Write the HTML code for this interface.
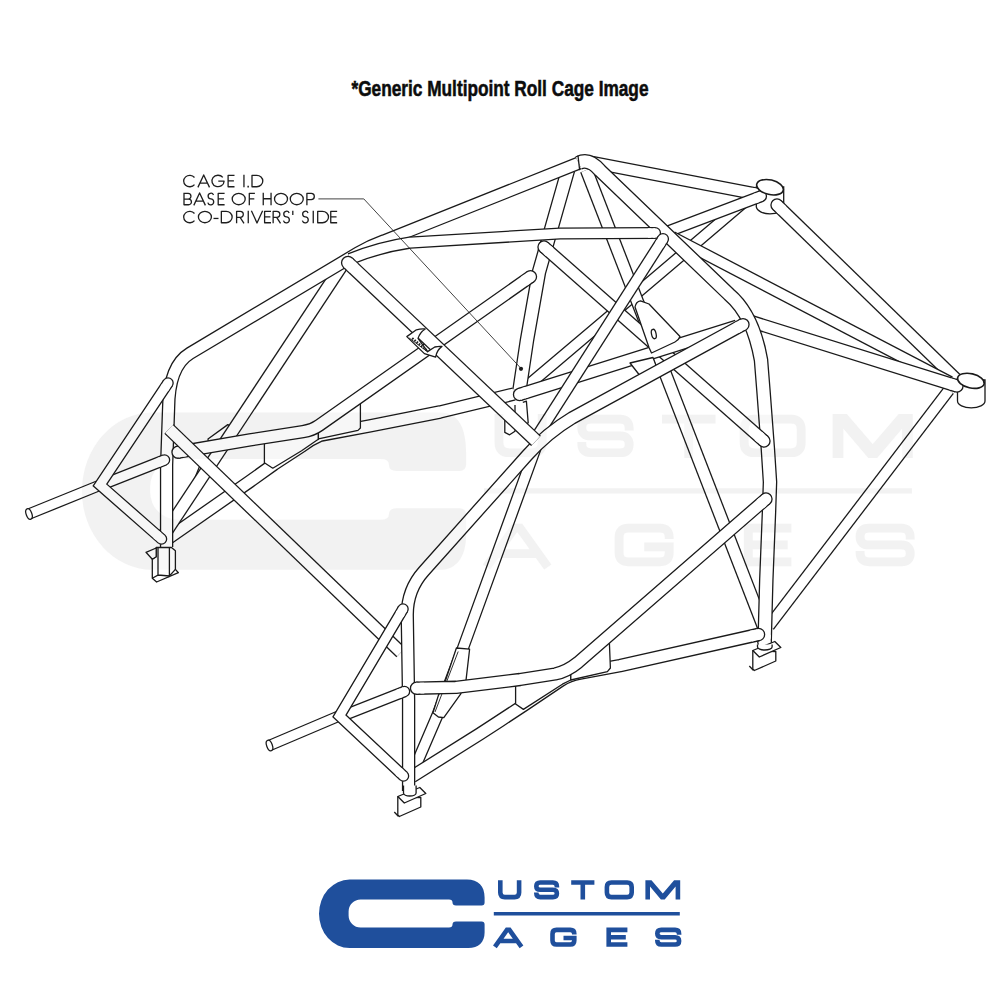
<!DOCTYPE html>
<html><head><meta charset="utf-8"><title>Generic Multipoint Roll Cage</title>
<style>
html,body{margin:0;padding:0;background:#fff;}
body{width:1000px;height:1000px;overflow:hidden;font-family:"Liberation Sans",sans-serif;}
svg{display:block;}
text{font-family:"Liberation Sans",sans-serif;}
</style></head><body>
<svg width="1000" height="1000" viewBox="0 0 1000 1000">
<defs>
<g id="logo">
<path stroke="none" d="M349.6 879.6 H467.0 C478.3 879.6 484.6 886 484.6 897.6 V902.4 Q484.6 905.4 481.6 905.4 H456 Q452.5 905.4 452.5 902.5 Q452.5 899.6 449 899.6 H360.6 A12 12 0 0 0 348.6 911.6 V915.4 A12 12 0 0 0 360.6 927.4 H449 Q452.5 927.4 452.5 924.5 Q452.5 921.6 456 921.6 H481.6 Q484.6 921.6 484.6 924.6 V932.4 C484.6 942 478.5 948 468.4 948 H349.6 A30.6 34.2 0 0 1 349.6 879.6 Z"/>
<g fill="none" stroke-linejoin="miter" stroke-linecap="butt">
<path d="M500.3 880.2 V892.6 Q500.3 897.1 504.8 897.1 H514.6 Q519.1 897.1 519.1 892.6 V880.2"/>
<path d="M556.9 887.4 V886.5 Q556.9 882.5 552.9 882.5 H540.3 Q536.3 882.5 536.3 886.2 Q536.3 889.8 540.3 889.8 H552.9 Q556.9 889.8 556.9 893.5 Q556.9 897.1 552.9 897.1 H540.3 Q536.3 897.1 536.3 893.1 V892.4"/>
<path d="M571.2 882.5 H594.4 M582.8 882.5 V899.4"/>
<path d="M611.4 882.5 H627.2 Q631.7 882.5 631.7 887 V892.6 Q631.7 897.1 627.2 897.1 H611.4 Q606.9 897.1 606.9 892.6 V887 Q606.9 882.5 611.4 882.5 Z"/>
<path stroke="none" fill="currentColor" d="M645.4 899.4 V880.2 H651.5 L662.8 893.4 L674.1 880.2 H680.2 V899.4 H675.6 V886.6 L664.7 899.4 H660.9 L650 886.6 V899.4 Z"/>
<path d="M493.8 913.7 H679.8" style="stroke-width:calc(var(--lw,3.4)*1px)"/>
<path d="M494.9 946.8 L507 929.9 H509.4 L521.5 946.8 M500 941 H516.4"/>
<path d="M574.3 934.6 V933.9 Q574.3 929.9 570.3 929.9 H556.5 Q552.5 929.9 552.5 933.9 V940.5 Q552.5 944.5 556.5 944.5 H570.3 Q574.3 944.5 574.3 940.5 V938 H563.5"/>
<path d="M627.4 929.9 H608.7 V944.5 H627.4 M608.7 937.2 H625.8"/>
<path d="M679.1 934.8 V933.9 Q679.1 929.9 675.1 929.9 H661.3 Q657.3 929.9 657.3 933.6 Q657.3 937.2 661.3 937.2 H675.1 Q679.1 937.2 679.1 940.9 Q679.1 944.5 675.1 944.5 H661.3 Q657.3 944.5 657.3 940.5 V939.8"/>
</g>

</g>
<g id="logowm">
<path stroke="none" d="M349.6 879.6 H474.4 C482.7 879.6 486 886 486 897.6 V902 Q486 905 483 905 H456 Q452.5 905 452.5 902.4 Q452.5 899.8 449 899.8 H360.6 A12 12 0 0 0 348.6 911.8 V914.2 A12 12 0 0 0 360.6 926.2 H449 Q452.5 926.2 452.5 923.7 Q452.5 921.2 456 921.2 H483 Q486 921.2 486 924.2 V932.4 C486 942 482.2 948 474.4 948 H349.6 A30.6 34.2 0 0 1 349.6 879.6 Z"/>
<g fill="none" stroke-linejoin="miter" stroke-linecap="butt">
<path d="M500.3 880.2 V892.6 Q500.3 897.1 504.8 897.1 H514.6 Q519.1 897.1 519.1 892.6 V880.2"/>
<path d="M556.9 887.4 V886.5 Q556.9 882.5 552.9 882.5 H540.3 Q536.3 882.5 536.3 886.2 Q536.3 889.8 540.3 889.8 H552.9 Q556.9 889.8 556.9 893.5 Q556.9 897.1 552.9 897.1 H540.3 Q536.3 897.1 536.3 893.1 V892.4"/>
<path d="M571.2 882.5 H594.4 M582.8 882.5 V899.4"/>
<path d="M611.4 882.5 H627.2 Q631.7 882.5 631.7 887 V892.6 Q631.7 897.1 627.2 897.1 H611.4 Q606.9 897.1 606.9 892.6 V887 Q606.9 882.5 611.4 882.5 Z"/>
<path stroke="none" fill="currentColor" d="M645.4 899.4 V880.2 H651.5 L662.8 893.4 L674.1 880.2 H680.2 V899.4 H675.6 V886.6 L664.7 899.4 H660.9 L650 886.6 V899.4 Z"/>
<path d="M493.8 913.7 H679.8" style="stroke-width:calc(var(--lw,3.4)*1px)"/>
<path d="M494.9 946.8 L507 929.9 H509.4 L521.5 946.8 M500 941 H516.4"/>
<path d="M574.3 934.6 V933.9 Q574.3 929.9 570.3 929.9 H556.5 Q552.5 929.9 552.5 933.9 V940.5 Q552.5 944.5 556.5 944.5 H570.3 Q574.3 944.5 574.3 940.5 V938 H563.5"/>
<path d="M627.4 929.9 H608.7 V944.5 H627.4 M608.7 937.2 H625.8"/>
<path d="M679.1 934.8 V933.9 Q679.1 929.9 675.1 929.9 H661.3 Q657.3 929.9 657.3 933.6 Q657.3 937.2 661.3 937.2 H675.1 Q679.1 937.2 679.1 940.9 Q679.1 944.5 675.1 944.5 H661.3 Q657.3 944.5 657.3 940.5 V939.8"/>
</g>

</g>
</defs>
<rect width="1000" height="1000" fill="#fff"/>
<!-- watermark underlay -->
<g opacity="0.014"><g transform="translate(82 412.5) scale(2.3) translate(-319 -879.6)" fill="#000" stroke="#000" color="#000" stroke-width="3.8" style="--lw:2.3">
<use href="#logowm"/>
</g></g>
<!-- title -->
<text x="351.5" y="96.2" font-size="22" font-weight="bold" fill="#0c0c0c" stroke="#0c0c0c" stroke-width="0.55" textLength="297" lengthAdjust="spacingAndGlyphs">*Generic Multipoint Roll Cage Image</text>
<!-- cage drawing -->
<g>
<path d="M756.3 187 V207 A13.75 7.5 0 0 0 783.7 207 V187 Z" fill="#fff" stroke="#1a1a1a" stroke-width="1.3"/>
<path d="M957.5 380 V401 A13.75 6.9 0 0 0 985 401 V380 Z" fill="#fff" stroke="#1a1a1a" stroke-width="1.3"/>
<path d="M 526 387 L 605 320.2 L 748 198.7" fill="none" stroke="#1a1a1a" stroke-width="12.2" stroke-linecap="butt" stroke-linejoin="round" stroke-miterlimit="10"/><path d="M 526 387 L 605 320.2 L 748 198.7" fill="none" stroke="#fff" stroke-width="9.6" stroke-linecap="butt" stroke-linejoin="round" stroke-miterlimit="10"/>
<path d="M 590 162 L 759 194.5" fill="none" stroke="#1a1a1a" stroke-width="13.4" stroke-linecap="butt" stroke-linejoin="round" stroke-miterlimit="10"/><path d="M 590 162 L 759 194.5" fill="none" stroke="#fff" stroke-width="10.8" stroke-linecap="butt" stroke-linejoin="round" stroke-miterlimit="10"/><circle cx="759" cy="194.5" r="6.05" fill="#fff" stroke="#1a1a1a" stroke-width="1.3"/><path d="M759 194.5 L751.439 193.046" fill="none" stroke="#fff" stroke-width="10.8"/>
<path d="M 761 196.2 L 668 231.5" fill="none" stroke="#1a1a1a" stroke-width="12.2" stroke-linecap="butt" stroke-linejoin="round" stroke-miterlimit="10"/><path d="M 761 196.2 L 668 231.5" fill="none" stroke="#fff" stroke-width="9.6" stroke-linecap="butt" stroke-linejoin="round" stroke-miterlimit="10"/><circle cx="761" cy="196.2" r="5.45" fill="#fff" stroke="#1a1a1a" stroke-width="1.3"/><path d="M761 196.2 L754.362 198.72" fill="none" stroke="#fff" stroke-width="9.6"/>
<path d="M 777 205 L 956 379" fill="none" stroke="#1a1a1a" stroke-width="13.4" stroke-linecap="butt" stroke-linejoin="round" stroke-miterlimit="10"/><path d="M 777 205 L 956 379" fill="none" stroke="#fff" stroke-width="10.8" stroke-linecap="butt" stroke-linejoin="round" stroke-miterlimit="10"/><circle cx="777" cy="205" r="6.05" fill="#fff" stroke="#1a1a1a" stroke-width="1.3"/><path d="M777 205 L782.521 210.367" fill="none" stroke="#fff" stroke-width="10.8"/>
<path d="M 672 236.8 L 950 382" fill="none" stroke="#1a1a1a" stroke-width="12.2" stroke-linecap="butt" stroke-linejoin="round" stroke-miterlimit="10"/><path d="M 672 236.8 L 950 382" fill="none" stroke="#fff" stroke-width="9.6" stroke-linecap="butt" stroke-linejoin="round" stroke-miterlimit="10"/>
<path d="M 949 390 L 769 626" fill="none" stroke="#1a1a1a" stroke-width="12.2" stroke-linecap="butt" stroke-linejoin="round" stroke-miterlimit="10"/><path d="M 949 390 L 769 626" fill="none" stroke="#fff" stroke-width="9.6" stroke-linecap="butt" stroke-linejoin="round" stroke-miterlimit="10"/>
<path d="M 746 320 L 957 386" fill="none" stroke="#1a1a1a" stroke-width="13.4" stroke-linecap="butt" stroke-linejoin="round" stroke-miterlimit="10"/><path d="M 746 320 L 957 386" fill="none" stroke="#fff" stroke-width="10.8" stroke-linecap="butt" stroke-linejoin="round" stroke-miterlimit="10"/><circle cx="957" cy="386" r="6.05" fill="#fff" stroke="#1a1a1a" stroke-width="1.3"/><path d="M957 386 L949.651 383.701" fill="none" stroke="#fff" stroke-width="10.8"/>
<ellipse cx="770" cy="187.2" rx="13.6" ry="7.3" transform="rotate(13 770 187.2)" fill="#fff" stroke="#1a1a1a" stroke-width="1.6"/>
<ellipse cx="970.9" cy="380.8" rx="13.6" ry="7.1" transform="rotate(13 970.9 380.8)" fill="#fff" stroke="#1a1a1a" stroke-width="1.6"/>
<path d="M 568 170 L 539 272 L 527 340 L 519.5 390" fill="none" stroke="#1a1a1a" stroke-width="14.6" stroke-linecap="butt" stroke-linejoin="round" stroke-miterlimit="10"/><path d="M 568 170 L 539 272 L 527 340 L 519.5 390" fill="none" stroke="#fff" stroke-width="12" stroke-linecap="butt" stroke-linejoin="round" stroke-miterlimit="10"/>
<path d="M504.8 404.8 V432.4 L509.6 434.8 L515 431.2 V405 M522.8 402.4 L526.4 401.2 L528.2 422.8 L524 425" fill="none" stroke="#1a1a1a" stroke-width="1.3" stroke-linejoin="round"/>
<path d="M 168 538.5 L 250 481.3 L 274 464.1 L 301.6 446.1 Q 311 439 320 435.2 L 370 425.9 L 440 412 L 514 394" fill="none" stroke="#1a1a1a" stroke-width="13.6" stroke-linecap="butt" stroke-linejoin="round" stroke-miterlimit="10"/><path d="M 168 538.5 L 250 481.3 L 274 464.1 L 301.6 446.1 Q 311 439 320 435.2 L 370 425.9 L 440 412 L 514 394" fill="none" stroke="#fff" stroke-width="11" stroke-linecap="butt" stroke-linejoin="round" stroke-miterlimit="10"/>
<path d="M227.8 424.6 L208 439 Q210 447 205 452.8 L193 482.8 L202 480 L234 428 Z" fill="#fff" stroke="#1a1a1a" stroke-width="1.3" stroke-linejoin="round"/>
<path d="M 343 264 L 162 538" fill="none" stroke="#1a1a1a" stroke-width="13.4" stroke-linecap="butt" stroke-linejoin="round" stroke-miterlimit="10"/><path d="M 343 264 L 162 538" fill="none" stroke="#fff" stroke-width="10.8" stroke-linecap="butt" stroke-linejoin="round" stroke-miterlimit="10"/>
<path d="M 586.4 170 L 764.7 630" fill="none" stroke="#1a1a1a" stroke-width="13.4" stroke-linecap="butt" stroke-linejoin="round" stroke-miterlimit="10"/><path d="M 586.4 170 L 764.7 630" fill="none" stroke="#fff" stroke-width="10.8" stroke-linecap="butt" stroke-linejoin="round" stroke-miterlimit="10"/>
<path d="M 166.6 547 L 166.6 465 L 168.6 408 Q 168.9 366 190 353.3 L 358 253 Q 370 246 384 240.9 L 579 163" fill="none" stroke="#1a1a1a" stroke-width="13.4" stroke-linecap="butt" stroke-linejoin="round" stroke-miterlimit="10"/><path d="M 166.6 547 L 166.6 465 L 168.6 408 Q 168.9 366 190 353.3 L 358 253 Q 370 246 384 240.9 L 579 163" fill="none" stroke="#fff" stroke-width="10.8" stroke-linecap="butt" stroke-linejoin="round" stroke-miterlimit="10"/>
<path d="M264.4 438 L264.4 462.8 L272.8 468.2 L301.6 450.8 L317.2 440 L318.4 439.4 L318.4 428 Z" fill="#fff" stroke="#1a1a1a" stroke-width="1.3" stroke-linejoin="round"/>
<path d="M318.4 428 L318.4 438.9 L358 430.4 L360.4 428 L360.4 400 Z" fill="#fff" stroke="#1a1a1a" stroke-width="1.3" stroke-linejoin="round"/>
<path d="M 178 452.2 L 250 439.9 L 303 431.7 Q 312 430.3 319 425.4 L 530.5 276.7" fill="none" stroke="#1a1a1a" stroke-width="13.4" stroke-linecap="butt" stroke-linejoin="round" stroke-miterlimit="10"/><path d="M 178 452.2 L 250 439.9 L 303 431.7 Q 312 430.3 319 425.4 L 530.5 276.7" fill="none" stroke="#fff" stroke-width="10.8" stroke-linecap="butt" stroke-linejoin="round" stroke-miterlimit="10"/><circle cx="178" cy="452.2" r="6.05" fill="#fff" stroke="#1a1a1a" stroke-width="1.3"/><path d="M178 452.2 L185.59 450.903" fill="none" stroke="#fff" stroke-width="10.8"/><circle cx="530.5" cy="276.7" r="6.05" fill="#fff" stroke="#1a1a1a" stroke-width="1.3"/><path d="M530.5 276.7 L524.201 281.129" fill="none" stroke="#fff" stroke-width="10.8"/>
<path d="M 578.6 162.9 Q 589 157.6 600 170.5 L 729 294.3 Q 753 314.5 761 360 L 763.4 390 L 767.8 448 L 770 482 L 769 512 L 766.3 580 L 764.6 643" fill="none" stroke="#1a1a1a" stroke-width="14.6" stroke-linecap="butt" stroke-linejoin="round" stroke-miterlimit="10"/><path d="M 578.6 162.9 Q 589 157.6 600 170.5 L 729 294.3 Q 753 314.5 761 360 L 763.4 390 L 767.8 448 L 770 482 L 769 512 L 766.3 580 L 764.6 643" fill="none" stroke="#fff" stroke-width="12" stroke-linecap="butt" stroke-linejoin="round" stroke-miterlimit="10"/><circle cx="764.6" cy="643" r="6.65" fill="#fff" stroke="#1a1a1a" stroke-width="1.3"/><path d="M764.6 643 L764.824 634.703" fill="none" stroke="#fff" stroke-width="12"/>
<path d="M 578 155.8 L 579.6 169.6" fill="none" stroke="#1a1a1a" stroke-width="1.3" stroke-linecap="round" stroke-linejoin="round"/>
<path d="M 544 247 L 764 441" fill="none" stroke="#1a1a1a" stroke-width="13.4" stroke-linecap="butt" stroke-linejoin="round" stroke-miterlimit="10"/><path d="M 544 247 L 764 441" fill="none" stroke="#fff" stroke-width="10.8" stroke-linecap="butt" stroke-linejoin="round" stroke-miterlimit="10"/><circle cx="544" cy="247" r="6.05" fill="#fff" stroke="#1a1a1a" stroke-width="1.3"/><path d="M544 247 L549.775 252.093" fill="none" stroke="#fff" stroke-width="10.8"/><circle cx="764" cy="441" r="6.05" fill="#fff" stroke="#1a1a1a" stroke-width="1.3"/><path d="M764 441 L758.225 435.907" fill="none" stroke="#fff" stroke-width="10.8"/>
<path d="M 519.5 394.5 L 737 326.2" fill="none" stroke="#1a1a1a" stroke-width="13.4" stroke-linecap="butt" stroke-linejoin="round" stroke-miterlimit="10"/><path d="M 519.5 394.5 L 737 326.2" fill="none" stroke="#fff" stroke-width="10.8" stroke-linecap="butt" stroke-linejoin="round" stroke-miterlimit="10"/><circle cx="519.5" cy="394.5" r="6.05" fill="#fff" stroke="#1a1a1a" stroke-width="1.3"/><path d="M519.5 394.5 L526.846 392.193" fill="none" stroke="#fff" stroke-width="10.8"/>
<path d="M630 363 L653 357.5 L657 368 L641 377 Z" fill="#fff" stroke="#1a1a1a" stroke-width="1.3" stroke-linejoin="round"/>
<path d="M635 307 Q636 301.5 640.5 300.8 L649 304 L680 336.5 Q678.5 340.5 675 342 L651.5 353 L649 347.5 Z" fill="#fff" stroke="#1a1a1a" stroke-width="1.3" stroke-linejoin="round"/>
<ellipse cx="653.8" cy="334" rx="2.3" ry="4.8" transform="rotate(-12 653.8 334)" fill="#fff" stroke="#1a1a1a" stroke-width="1.3"/>
<path d="M 350 259 Q 380 247 410 242.6 L 560 233.5 L 655 233" fill="none" stroke="#1a1a1a" stroke-width="12.2" stroke-linecap="butt" stroke-linejoin="round" stroke-miterlimit="10"/><path d="M 350 259 Q 380 247 410 242.6 L 560 233.5 L 655 233" fill="none" stroke="#fff" stroke-width="9.6" stroke-linecap="butt" stroke-linejoin="round" stroke-miterlimit="10"/><circle cx="655" cy="233" r="5.45" fill="#fff" stroke="#1a1a1a" stroke-width="1.3"/><path d="M655 233 L647.9 233.037" fill="none" stroke="#fff" stroke-width="9.6"/>
<path d="M 536.5 437 L 663 239" fill="none" stroke="#1a1a1a" stroke-width="12.2" stroke-linecap="butt" stroke-linejoin="round" stroke-miterlimit="10"/><path d="M 536.5 437 L 663 239" fill="none" stroke="#fff" stroke-width="9.6" stroke-linecap="butt" stroke-linejoin="round" stroke-miterlimit="10"/><circle cx="663" cy="239" r="5.45" fill="#fff" stroke="#1a1a1a" stroke-width="1.3"/><path d="M663 239 L659.177 244.983" fill="none" stroke="#fff" stroke-width="9.6"/>
<path d="M 169 429 L 401 652.3" fill="none" stroke="#1a1a1a" stroke-width="13.4" stroke-linecap="butt" stroke-linejoin="round" stroke-miterlimit="10"/><path d="M 169 429 L 401 652.3" fill="none" stroke="#fff" stroke-width="10.8" stroke-linecap="butt" stroke-linejoin="round" stroke-miterlimit="10"/>
<path d="M 536 447 L 463 648 L 437.5 715 L 413 772" fill="none" stroke="#1a1a1a" stroke-width="12.2" stroke-linecap="butt" stroke-linejoin="round" stroke-miterlimit="10"/><path d="M 536 447 L 463 648 L 437.5 715 L 413 772" fill="none" stroke="#fff" stroke-width="9.6" stroke-linecap="butt" stroke-linejoin="round" stroke-miterlimit="10"/>
<path d="M456.4 648 L469.6 649.2 L466 680.4 L460.6 694.2 L443.8 717.6 L438.4 717 L433 712.8 L438.4 695.4 L445.6 680.4 Z" fill="#fff" stroke="#1a1a1a" stroke-width="1.3" stroke-linejoin="round"/>
<path d="M458.2 651.5 L435 712" fill="none" stroke="#1a1a1a" stroke-width="0.9"/>
<path d="M 412 776.5 L 480 733.8 L 500 720.8 L 524 705 L 560 680.8 Q 569 674.8 580 673 L 620 665.6 L 758.5 634.5" fill="none" stroke="#1a1a1a" stroke-width="13.6" stroke-linecap="butt" stroke-linejoin="round" stroke-miterlimit="10"/><path d="M 412 776.5 L 480 733.8 L 500 720.8 L 524 705 L 560 680.8 Q 569 674.8 580 673 L 620 665.6 L 758.5 634.5" fill="none" stroke="#fff" stroke-width="11" stroke-linecap="butt" stroke-linejoin="round" stroke-miterlimit="10"/><circle cx="758.5" cy="634.5" r="6.15" fill="#fff" stroke="#1a1a1a" stroke-width="1.3"/><path d="M758.5 634.5 L750.89 636.209" fill="none" stroke="#fff" stroke-width="11"/>
<path d="M 408.6 791 L 408.6 700 L 407.25 615 Q 407.25 589.5 424 571 L 527 455.5 Q 547 433 572 418 L 743 324.6" fill="none" stroke="#1a1a1a" stroke-width="13.4" stroke-linecap="butt" stroke-linejoin="round" stroke-miterlimit="10"/><path d="M 408.6 791 L 408.6 700 L 407.25 615 Q 407.25 589.5 424 571 L 527 455.5 Q 547 433 572 418 L 743 324.6" fill="none" stroke="#fff" stroke-width="10.8" stroke-linecap="butt" stroke-linejoin="round" stroke-miterlimit="10"/><circle cx="743" cy="324.6" r="6.05" fill="#fff" stroke="#1a1a1a" stroke-width="1.3"/><path d="M743 324.6 L736.242 328.291" fill="none" stroke="#fff" stroke-width="10.8"/>
<path d="M515.6 680 L515.6 704 L523.4 709.4 L562.4 684.2 L570.8 680 L570.8 668 Z" fill="#fff" stroke="#1a1a1a" stroke-width="1.3" stroke-linejoin="round"/>
<path d="M570.8 668 L570.8 680 L607.4 671.6 L610.4 668 L609.2 638 Z" fill="#fff" stroke="#1a1a1a" stroke-width="1.3" stroke-linejoin="round"/>
<path d="M 416.5 688.2 L 456 687.3 L 520 679.5 L 555 674 Q 567 671.5 578 662.5 L 766 499" fill="none" stroke="#1a1a1a" stroke-width="13.4" stroke-linecap="butt" stroke-linejoin="round" stroke-miterlimit="10"/><path d="M 416.5 688.2 L 456 687.3 L 520 679.5 L 555 674 Q 567 671.5 578 662.5 L 766 499" fill="none" stroke="#fff" stroke-width="10.8" stroke-linecap="butt" stroke-linejoin="round" stroke-miterlimit="10"/><circle cx="416.5" cy="688.2" r="6.05" fill="#fff" stroke="#1a1a1a" stroke-width="1.3"/><path d="M416.5 688.2 L424.198 688.025" fill="none" stroke="#fff" stroke-width="10.8"/><circle cx="766" cy="499" r="6.05" fill="#fff" stroke="#1a1a1a" stroke-width="1.3"/><path d="M766 499 L760.19 504.053" fill="none" stroke="#fff" stroke-width="10.8"/>
<path d="M 348 262.8 L 536 440.8" fill="none" stroke="#1a1a1a" stroke-width="14.2" stroke-linecap="butt" stroke-linejoin="round" stroke-miterlimit="10"/><path d="M 348 262.8 L 536 440.8" fill="none" stroke="#fff" stroke-width="11.6" stroke-linecap="butt" stroke-linejoin="round" stroke-miterlimit="10"/><circle cx="348" cy="262.8" r="6.45" fill="#fff" stroke="#1a1a1a" stroke-width="1.3"/><path d="M348 262.8 L353.882 268.369" fill="none" stroke="#fff" stroke-width="11.6"/>
<path d="M406.8 336.6 L416.4 329.8 Q421 328.6 425.2 329 Q419.8 332.6 418 338.4 L427.6 351.6 L434.8 347 Q438.5 346 442 346.4 Q436.8 350 435.6 357.2 L424.4 353.6 Z" fill="#fff" stroke="#1a1a1a" stroke-width="1.3" stroke-linejoin="round"/>
<path d="M409.2 338 L428 352.2" fill="none" stroke="#1a1a1a" stroke-width="0.9"/>
<path d="M412.2 338.2 L426.6 350.2" fill="none" stroke="#1a1a1a" stroke-width="2.2" stroke-dasharray="1.6 1.3"/>
<path d="M 29 514 L 98 486" fill="none" stroke="#1a1a1a" stroke-width="11.6" stroke-linecap="butt" stroke-linejoin="round" stroke-miterlimit="10"/><path d="M 29 514 L 98 486" fill="none" stroke="#fff" stroke-width="9" stroke-linecap="butt" stroke-linejoin="round" stroke-miterlimit="10"/>
<ellipse cx="29" cy="514" rx="2.8" ry="5.5" transform="rotate(-20 29 514)" fill="#fff" stroke="#1a1a1a" stroke-width="1.3"/>
<path d="M 100 485.5 L 164.5 460" fill="none" stroke="#1a1a1a" stroke-width="11.6" stroke-linecap="butt" stroke-linejoin="round" stroke-miterlimit="10"/><path d="M 100 485.5 L 164.5 460" fill="none" stroke="#fff" stroke-width="9" stroke-linecap="butt" stroke-linejoin="round" stroke-miterlimit="10"/><circle cx="164.5" cy="460" r="5.15" fill="#fff" stroke="#1a1a1a" stroke-width="1.3"/><path d="M164.5 460 L158.176 462.5" fill="none" stroke="#fff" stroke-width="9"/>
<path d="M 168 383 L 100 485 L 161.5 539" fill="none" stroke="#1a1a1a" stroke-width="11.6" stroke-linecap="butt" stroke-linejoin="miter" stroke-miterlimit="10"/><path d="M 168 383 L 100 485 L 161.5 539" fill="none" stroke="#fff" stroke-width="9" stroke-linecap="butt" stroke-linejoin="miter" stroke-miterlimit="10"/><circle cx="168" cy="383" r="5.15" fill="#fff" stroke="#1a1a1a" stroke-width="1.3"/><path d="M168 383 L164.228 388.658" fill="none" stroke="#fff" stroke-width="9"/><circle cx="161.5" cy="539" r="5.15" fill="#fff" stroke="#1a1a1a" stroke-width="1.3"/><path d="M161.5 539 L156.39 534.513" fill="none" stroke="#fff" stroke-width="9"/>
<path d="M 269.5 745.5 L 339 716" fill="none" stroke="#1a1a1a" stroke-width="11.6" stroke-linecap="butt" stroke-linejoin="round" stroke-miterlimit="10"/><path d="M 269.5 745.5 L 339 716" fill="none" stroke="#fff" stroke-width="9" stroke-linecap="butt" stroke-linejoin="round" stroke-miterlimit="10"/>
<ellipse cx="269.5" cy="745.5" rx="2.8" ry="5.5" transform="rotate(-20 269.5 745.5)" fill="#fff" stroke="#1a1a1a" stroke-width="1.3"/>
<path d="M 341 716.5 L 404.5 691.5" fill="none" stroke="#1a1a1a" stroke-width="11.6" stroke-linecap="butt" stroke-linejoin="round" stroke-miterlimit="10"/><path d="M 341 716.5 L 404.5 691.5" fill="none" stroke="#fff" stroke-width="9" stroke-linecap="butt" stroke-linejoin="round" stroke-miterlimit="10"/><circle cx="404.5" cy="691.5" r="5.15" fill="#fff" stroke="#1a1a1a" stroke-width="1.3"/><path d="M404.5 691.5 L398.173 693.991" fill="none" stroke="#fff" stroke-width="9"/>
<path d="M 403 609 L 339.5 716 L 403.5 776" fill="none" stroke="#1a1a1a" stroke-width="11.6" stroke-linecap="butt" stroke-linejoin="miter" stroke-miterlimit="10"/><path d="M 403 609 L 339.5 716 L 403.5 776" fill="none" stroke="#fff" stroke-width="9" stroke-linecap="butt" stroke-linejoin="miter" stroke-miterlimit="10"/><circle cx="403" cy="609" r="5.15" fill="#fff" stroke="#1a1a1a" stroke-width="1.3"/><path d="M403 609 L399.53 614.848" fill="none" stroke="#fff" stroke-width="9"/><circle cx="403.5" cy="776" r="5.15" fill="#fff" stroke="#1a1a1a" stroke-width="1.3"/><path d="M403.5 776 L398.539 771.349" fill="none" stroke="#fff" stroke-width="9"/>
<polygon points="397.8,797 397.8,815 399.3,816.5 420.8,807 420.8,797.5" fill="#fff" stroke="#1a1a1a" stroke-width="1.3" stroke-linejoin="round"/>
<polyline points="394.3,812 398.3,816.3" fill="#fff" stroke="#1a1a1a" stroke-width="1.3" stroke-linejoin="round"/>
<polygon points="397.8,796.5 419.8,787.5 425.8,793.5 404.3,803" fill="#fff" stroke="#1a1a1a" stroke-width="1.3" stroke-linejoin="round"/>
<path d="M403.5 785.5 V793 A6.3 3 0 0 0 416.1 793 V785.5" fill="#fff" stroke="#1a1a1a" stroke-width="1.3" stroke-linejoin="round"/>
<polygon points="752.8,651 752.8,669 754.3,670.5 775.8,661 775.8,651.5" fill="#fff" stroke="#1a1a1a" stroke-width="1.3" stroke-linejoin="round"/>
<polyline points="749.3,666 753.3,670.3" fill="#fff" stroke="#1a1a1a" stroke-width="1.3" stroke-linejoin="round"/>
<polygon points="752.8,650.5 774.8,641.5 780.8,647.5 759.3,657" fill="#fff" stroke="#1a1a1a" stroke-width="1.3" stroke-linejoin="round"/>
<path d="M757.5 644.5 V647 A7.3 3 0 0 0 772.1 647 V644.5" fill="#fff" stroke="#1a1a1a" stroke-width="1.3" stroke-linejoin="round"/>
<polygon points="152.3,559.2 152.3,578.2 156.6,582 178.4,572.7 175.4,569.4 175.4,550.8 171.5,547.5 156.2,547.5 156.2,556.8" fill="#fff" stroke="#1a1a1a" stroke-width="1.3" stroke-linejoin="round"/>
<polygon points="146,552.3 156.2,548 156.2,556.8 152.3,559.2" fill="#fff" stroke="#1a1a1a" stroke-width="1.3" stroke-linejoin="round"/>
<path d="M158 547.5 V575 L152.3 578.2 M169.4 547.5 V576 L175.4 569.4 M158 575 L169.4 576" fill="none" stroke="#1a1a1a" stroke-width="1.3"/>
</g>
<!-- watermark (overlaid, translucent so line art shows through) -->
<g opacity="0.028"><g transform="translate(82 412.5) scale(2.3) translate(-319 -879.6)" fill="#000" stroke="#000" color="#000" stroke-width="3.8" style="--lw:2.3">
<use href="#logowm"/>
</g></g>
<!-- annotation -->
<g fill="none" stroke="#1e1e1e" stroke-width="1.3" stroke-linejoin="round" stroke-linecap="butt">
<path transform="translate(183 187.35)" d="M11.5 -9.9 A6.1 5.7 0 1 0 11.5 -2.7"/>
<path transform="translate(197.4 187.35)" d="M0.5 0 L6.3 -12.4 L12.1 0 M2.6 -4.3 H10"/>
<path transform="translate(211.3 187.35)" d="M11.5 -9.9 A6.1 5.7 0 1 0 12.8 -6.2 H7"/>
<path transform="translate(227.5 187.35)" d="M7 -12 H0.6 V-0.6 H7 M0.6 -6.5 H6.4"/>
<path transform="translate(243.3 187.35)" d="M0.65 -12.6 V0"/>
<path transform="translate(247.2 187.35)" d="M0.2 -0.75 H1.7" stroke-width="1.6"/>
<path transform="translate(251.4 187.35)" d="M0.6 -12 V-0.6 H5.4 A6 5.7 0 0 0 5.4 -12 Z"/>
<path transform="translate(183.4 205.35)" d="M0.6 -12 H4.7 A2.85 2.85 0 0 1 4.7 -6.3 H0.6 M4.7 -6.3 H5.2 A2.85 2.85 0 0 1 5.2 -0.6 H0.6 M0.6 -12.6 V0"/>
<path transform="translate(193.3 205.35)" d="M0.5 0 L6.3 -12.4 L12.1 0 M2.6 -4.3 H10"/>
<path transform="translate(206.8 205.35)" d="M6.7 -10.4 A2.8 2.8 0 1 0 4 -6.5 A3 3 0 1 1 1.0 -2.7"/>
<path transform="translate(217.6 205.35)" d="M7 -12 H0.6 V-0.6 H7 M0.6 -6.5 H6.4"/>
<path transform="translate(231.6 205.35)" d="M7.1 -12 A6.5 5.7 0 1 0 7.1 -0.6 A6.5 5.7 0 1 0 7.1 -12 Z"/>
<path transform="translate(248.7 205.35)" d="M6.2 -12 H0.6 V0 M0.6 -6.5 H5.6"/>
<path transform="translate(262.65 205.35)" d="M0.6 -12.6 V0 M8.4 -12.6 V0 M0.6 -6.6 H8.4"/>
<path transform="translate(273.9 205.35)" d="M7.1 -12 A6.5 5.7 0 1 0 7.1 -0.6 A6.5 5.7 0 1 0 7.1 -12 Z"/>
<path transform="translate(289.65 205.35)" d="M7.1 -12 A6.5 5.7 0 1 0 7.1 -0.6 A6.5 5.7 0 1 0 7.1 -12 Z"/>
<path transform="translate(306.3 205.35)" d="M0.6 0 V-12 H4.9 A3.1 3.1 0 0 1 4.9 -5.8 H0.6"/>
<path transform="translate(183 223.35)" d="M11.5 -9.9 A6.1 5.7 0 1 0 11.5 -2.7"/>
<path transform="translate(197.8 223.35)" d="M7.1 -12 A6.5 5.7 0 1 0 7.1 -0.6 A6.5 5.7 0 1 0 7.1 -12 Z"/>
<path transform="translate(213.5 223.35)" d="M0 -4.9 H5"/>
<path transform="translate(220.75 223.35)" d="M0.6 -12 V-0.6 H5.4 A6 5.7 0 0 0 5.4 -12 Z"/>
<path transform="translate(236 223.35)" d="M0.6 0 V-12 H4.3 A3 3 0 0 1 4.3 -6 H0.6 M4.1 -6 L8 0"/>
<path transform="translate(247.6 223.35)" d="M0.65 -12.6 V0"/>
<path transform="translate(250.9 223.35)" d="M0.5 -12.6 L6.1 -0.4 L11.7 -12.6"/>
<path transform="translate(264 223.35)" d="M7 -12 H0.6 V-0.6 H7 M0.6 -6.5 H6.4"/>
<path transform="translate(272.55 223.35)" d="M0.6 0 V-12 H4.3 A3 3 0 0 1 4.3 -6 H0.6 M4.1 -6 L8 0"/>
<path transform="translate(282.45 223.35)" d="M6.7 -10.4 A2.8 2.8 0 1 0 4 -6.5 A3 3 0 1 1 1.0 -2.7"/>
<path transform="translate(292.3 223.35)" d="M0.5 -12.6 V-8.4"/>
<path transform="translate(301.35 223.35)" d="M6.7 -10.4 A2.8 2.8 0 1 0 4 -6.5 A3 3 0 1 1 1.0 -2.7"/>
<path transform="translate(312.6 223.35)" d="M0.65 -12.6 V0"/>
<path transform="translate(317.1 223.35)" d="M0.6 -12 V-0.6 H5.4 A6 5.7 0 0 0 5.4 -12 Z"/>
<path transform="translate(330.15 223.35)" d="M7 -12 H0.6 V-0.6 H7 M0.6 -6.5 H6.4"/>
</g>
<path d="M318.4 198.9 H363.8 L520.6 368" fill="none" stroke="#222" stroke-width="0.85"/>
<circle cx="521" cy="368.8" r="2.1" fill="#1c1c1c"/>

<!-- logo -->
<g fill="#1f4f9c" stroke="#1f4f9c" color="#1f4f9c" stroke-width="4.6">
<use href="#logo"/>
</g>
</svg>
</body></html>
